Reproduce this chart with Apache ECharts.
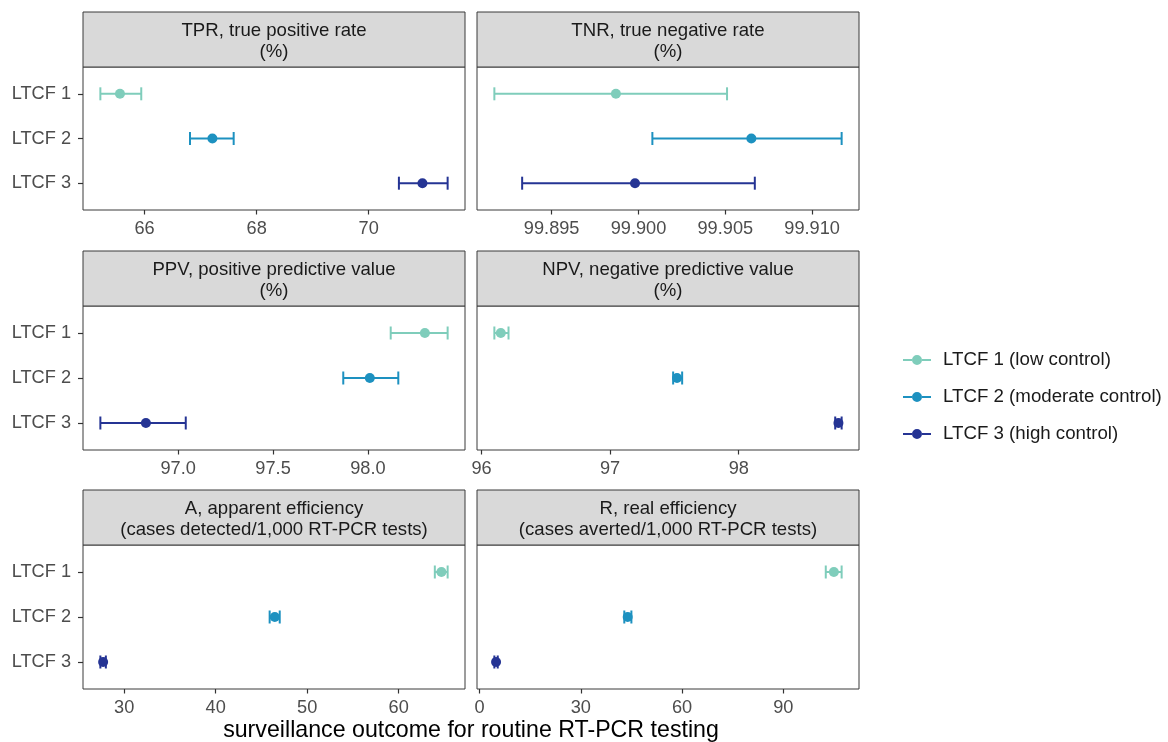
<!DOCTYPE html>
<html>
<head>
<meta charset="utf-8">
<script src="https://cdn.jsdelivr.net/npm/echarts@6/dist/echarts.min.js"></script>
<style>
  html, body { margin: 0; padding: 0; background: #ffffff; }
  #chart { width: 1168px; height: 742px; }
</style>
</head>
<body>
<div id="chart"></div>
<script>
// Facilities and legend entries
const facilities = ['LTCF 1', 'LTCF 2', 'LTCF 3'];
const legendNames = ['LTCF 1 (low control)', 'LTCF 2 (moderate control)', 'LTCF 3 (high control)'];
const facilityColors = ['#7fcdbb', '#1d91c0', '#253494'];

// Facet titles
const panelTitles = [
  'TPR, true positive rate\n(%)',
  'TNR, true negative rate\n(%)',
  'PPV, positive predictive value\n(%)',
  'NPV, negative predictive value\n(%)',
  'A, apparent efficiency\n(cases detected/1,000 RT-PCR tests)',
  'R, real efficiency\n(cases averted/1,000 RT-PCR tests)'
];

// Estimates with lower / upper bounds, one value per facility
const tprEst = [65.56, 67.21, 70.96];
const tprLo  = [65.21, 66.81, 70.54];
const tprHi  = [65.94, 67.59, 71.41];

const tnrEst = [99.8987, 99.9065, 99.8998];
const tnrLo  = [99.8917, 99.9008, 99.8933];
const tnrHi  = [99.9051, 99.9117, 99.9067];

const ppvEst = [98.30, 98.01, 96.83];
const ppvLo  = [98.12, 97.87, 96.59];
const ppvHi  = [98.42, 98.16, 97.04];

const npvEst = [96.15, 97.52, 98.775];
const npvLo  = [96.10, 97.49, 98.75];
const npvHi  = [96.21, 97.56, 98.80];

const aEst = [64.67, 46.46, 27.70];
const aLo  = [63.95, 45.90, 27.40];
const aHi  = [65.35, 47.00, 28.00];

const rEst = [105.0, 43.9, 4.9];
const rLo  = [102.6, 42.9, 4.4];
const rHi  = [107.3, 45.0, 5.4];

// Axis tick labels per facet
const tprTicks = [66, 68, 70];
const tnrTicks = [99.895, 99.900, 99.905, 99.910];
const ppvTicks = [97.0, 97.5, 98.0];
const npvTicks = [96, 97, 98];
const aTicks   = [30, 40, 50, 60];
const rTicks   = [0, 30, 60, 90];

const xTitle = 'surveillance outcome for routine RT-PCR testing';

const panels = [
  { est: tprEst, lo: tprLo, hi: tprHi, ticks: tprTicks, dec: 0 },
  { est: tnrEst, lo: tnrLo, hi: tnrHi, ticks: tnrTicks, dec: 3 },
  { est: ppvEst, lo: ppvLo, hi: ppvHi, ticks: ppvTicks, dec: 1 },
  { est: npvEst, lo: npvLo, hi: npvHi, ticks: npvTicks, dec: 0 },
  { est: aEst,   lo: aLo,   hi: aHi,   ticks: aTicks,   dec: 0 },
  { est: rEst,   lo: rLo,   hi: rHi,   ticks: rTicks,   dec: 0 }
];

// Facet geometry
const colLeft = [83, 477];
const panelW = 382;
const rowTop = [67, 306, 545];
const panelH = [143, 144, 144];
const stripH = 55;

const FONT = '"Liberation Sans", Arial, Helvetica, sans-serif';
const SMALL = 18.2;

const grids = [], xAxes = [], yAxes = [], series = [], graphics = [];

panels.forEach((p, i) => {
  const col = i % 2, row = Math.floor(i / 2);
  grids.push({
    left: colLeft[col], top: rowTop[row], width: panelW, height: panelH[row],
    show: true, borderColor: '#3a3a3a', borderWidth: 1, backgroundColor: '#ffffff',
    containLabel: false
  });
  // continuous scale padded by 5% of the data range on each side
  const dmin = Math.min(...p.lo), dmax = Math.max(...p.hi);
  const pad = (dmax - dmin) * 0.05;
  xAxes.push({
    type: 'value', gridIndex: i, min: dmin - pad, max: dmax + pad, scale: true,
    axisLine: { show: false },
    splitLine: { show: false },
    axisTick: { show: true, customValues: p.ticks, length: 4.5, lineStyle: { color: '#333333', width: 1.2 } },
    axisLabel: {
      customValues: p.ticks, margin: 10, color: '#4d4d4d', fontFamily: FONT, fontSize: SMALL,
      formatter: v => Number(v).toFixed(p.dec)
    }
  });
  yAxes.push({
    type: 'value', gridIndex: i, min: 0.4, max: 3.6, inverse: true,
    axisLine: { show: false },
    splitLine: { show: false },
    axisTick: { show: col === 0, customValues: [1, 2, 3], length: 5, lineStyle: { color: '#333333', width: 1.2 } },
    axisLabel: {
      show: col === 0, customValues: [1, 2, 3], margin: 12, color: '#4d4d4d', fontFamily: FONT, fontSize: SMALL,
      formatter: v => facilities[Math.round(v) - 1]
    }
  });

  facilities.forEach((f, k) => {
    // horizontal error bar with end caps
    series.push({
      type: 'custom', name: legendNames[k], xAxisIndex: i, yAxisIndex: i,
      itemStyle: { color: facilityColors[k] },
      encode: { x: [0, 1], y: 2 },
      data: [[p.lo[k], p.hi[k], k + 1]],
      renderItem: (params, api) => {
        const a = api.coord([api.value(0), api.value(2)]);
        const b = api.coord([api.value(1), api.value(2)]);
        const h = 6.5;
        const st = { stroke: facilityColors[k], lineWidth: 2, fill: null };
        return {
          type: 'group',
          children: [
            { type: 'line', shape: { x1: a[0], y1: a[1], x2: b[0], y2: b[1] }, style: st },
            { type: 'line', shape: { x1: a[0], y1: a[1] - h, x2: a[0], y2: a[1] + h }, style: st },
            { type: 'line', shape: { x1: b[0], y1: b[1] - h, x2: b[0], y2: b[1] + h }, style: st }
          ]
        };
      },
      z: 2, silent: true, animation: false
    });
    // point estimate
    series.push({
      type: 'scatter', name: legendNames[k], xAxisIndex: i, yAxisIndex: i,
      symbol: 'circle', symbolSize: 10,
      itemStyle: { color: facilityColors[k], opacity: 1 },
      data: [[p.est[k], k + 1]],
      z: 3, silent: true, animation: false
    });
  });

  // facet strip
  const sx = colLeft[col], sy = rowTop[row] - stripH;
  graphics.push({
    type: 'rect', silent: true, z: 1,
    shape: { x: sx, y: sy, width: panelW, height: stripH },
    style: { fill: '#d9d9d9', stroke: '#3a3a3a', lineWidth: 1 }
  });
  graphics.push({
    type: 'text', silent: true, z: 2,
    x: sx + panelW / 2, y: sy + stripH / 2 + 2,
    style: {
      text: panelTitles[i], fill: '#1a1a1a', font: '18.6px ' + FONT,
      align: 'center', verticalAlign: 'middle', lineHeight: 21.7
    }
  });
});

graphics.push({
  type: 'text', silent: true,
  x: (colLeft[0] + colLeft[1] + panelW) / 2, y: 731,
  style: { text: xTitle, fill: '#000000', font: '23.2px ' + FONT, align: 'center', verticalAlign: 'middle' }
});

// legend icon: line segment through a filled dot
const legendIcon = 'path://M0,4 L9,4 L9,6 L0,6 Z M19,4 L28,4 L28,6 L19,6 Z M9,5 A5,5 0 1 0 19,5 A5,5 0 1 0 9,5 Z';

const option = {
  backgroundColor: '#ffffff',
  animation: false,
  grid: grids,
  xAxis: xAxes,
  yAxis: yAxes,
  legend: {
    data: legendNames.map(n => ({ name: n, icon: legendIcon })),
    orient: 'vertical', left: 898, top: 345,
    itemWidth: 28, itemHeight: 10, itemGap: 17,
    selectedMode: false,
    textStyle: { color: '#1a1a1a', fontFamily: FONT, fontSize: 18.7, lineHeight: 20, padding: [0, 0, 0, 7] }
  },
  graphic: graphics,
  series: series
};

const chart = echarts.init(document.getElementById('chart'), null, { renderer: 'canvas' });
chart.setOption(option);
</script>
</body>
</html>
